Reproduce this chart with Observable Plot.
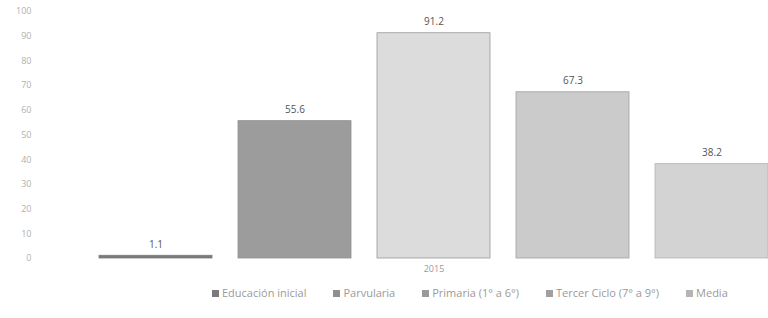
<!DOCTYPE html>
<html>
<head>
<meta charset="utf-8">
<script src="https://cdn.jsdelivr.net/npm/d3@7"></script>
<script src="https://cdn.jsdelivr.net/npm/@observablehq/plot@0.6"></script>
<style>
  html, body { margin: 0; padding: 0; background: #fff; }
  body { width: 768px; height: 318px; overflow: hidden; font-family: "Open Sans", sans-serif; }
  #legend { display: flex; gap: 27px; padding-left: 212px; margin-top: 5px; font-size: 11px; color: #9a9a9a; white-space: nowrap; }
  #legend span.sw { display: inline-block; width: 7px; height: 7px; margin-right: 3px; vertical-align: 0px; }
</style>
</head>
<body>
<div id="chart"></div>
<div id="legend"></div>
<script>
const year = "2015";
const categories = ["Educación inicial", "Parvularia", "Primaria (1° a 6°)", "Tercer Ciclo (7° a 9°)", "Media"];
const values = [1.1, 55.6, 91.2, 67.3, 38.2];
const colors = ["#7a7a7a", "#9c9c9c", "#dcdcdc", "#cbcbcb", "#d3d3d3"];
const edgeColors = ["#7a7a7a", "#8f8f8f", "#9a9a9a", "#a0a0a0", "#b5b5b5"];
const yTicks = [0, 10, 20, 30, 40, 50, 60, 70, 80, 90, 100];

const data = categories.map((c, i) => ({category: c, value: values[i]}));

const chart = Plot.plot({
  width: 768,
  height: 280,
  marginLeft: 40,
  marginRight: 0,
  marginTop: 11,
  marginBottom: 22,
  style: {fontFamily: "Open Sans, sans-serif", background: "#fff"},
  x: {domain: categories, paddingInner: 0.19, paddingOuter: 0.21, align: 1, axis: null},
  y: {domain: [0, 100], ticks: yTicks, axis: null},
  color: {domain: categories, range: colors},
  marks: [
    Plot.axisY({ticks: yTicks, tickSize: 0, dx: 0, label: null, textAnchor: "end", fontSize: 9, fill: "#b0b0b0", tickFormat: d => d}),
    Plot.barY(data, {x: "category", y: "value", fill: "category", stroke: (d, i) => edgeColors[i], strokeWidth: 0.8}),
    Plot.text(data, {x: "category", y: "value", text: d => d.value.toFixed(1), dy: -11, fontSize: 10, fill: "#555"}),
    Plot.text([year], {x: () => categories[2], y: () => 0, text: d => d, dy: 11, fontSize: 9, fill: "#999"})
  ]
});
document.getElementById("chart").appendChild(chart);

const legend = document.getElementById("legend");
categories.forEach((c, i) => {
  const item = document.createElement("div");
  item.innerHTML = `<span class="sw" style="background:${edgeColors[i]}"></span>${c}`;
  legend.appendChild(item);
});
</script>
</body>
</html>
